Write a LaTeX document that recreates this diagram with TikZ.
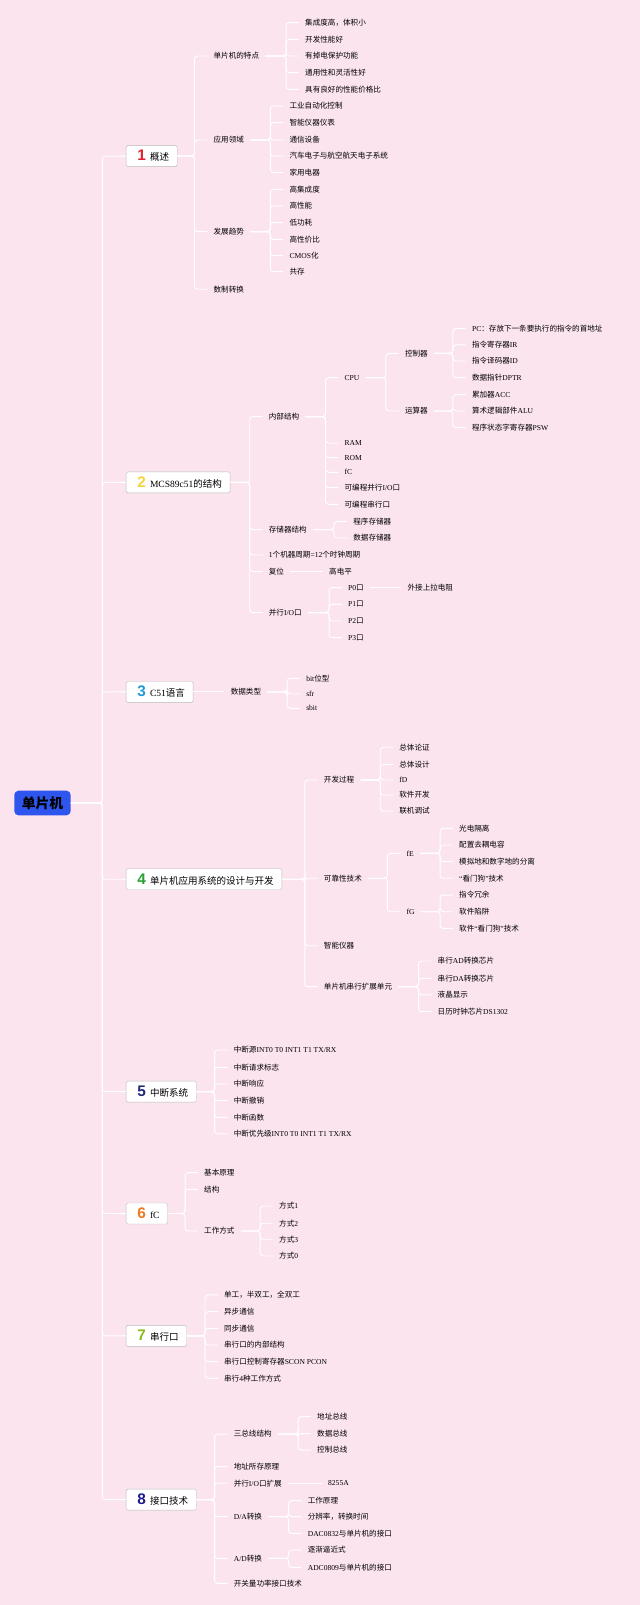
\documentclass[tikz,border=0pt]{standalone}
\usepackage{fontspec}
\setmainfont{Liberation Serif}
\setsansfont{Liberation Sans}
\newfontfamily\cjk{Noto Sans CJK SC}

% Chinese characters are set in the CJK font, the rest in Liberation Serif
\XeTeXinterchartokenstate=1
\newXeTeXintercharclass\cjkcls
\newcount\cjkcnt
\cjkcnt="3000
\loop
  \XeTeXcharclass\cjkcnt=\cjkcls
  \advance\cjkcnt by 1
\ifnum\cjkcnt<"A000 \repeat
\XeTeXcharclass"FF0C=\cjkcls
\XeTeXcharclass"FF1A=\cjkcls
\XeTeXcharclass"201C=0
\XeTeXcharclass"201D=0
\XeTeXinterchartoks 0 \cjkcls = {\cjk}
\XeTeXinterchartoks 4095 \cjkcls = {\cjk}
\XeTeXinterchartoks \cjkcls 0 = {\rmfamily}
\XeTeXinterchartoks \cjkcls 4095 = {\rmfamily}

\definecolor{bgpink}{RGB}{251,228,238}
\definecolor{rootblue}{RGB}{46,86,238}
\definecolor{boxline}{RGB}{185,185,185}
\definecolor{numA}{RGB}{226,30,50}
\definecolor{numB}{RGB}{246,212,60}
\definecolor{numC}{RGB}{32,152,214}
\definecolor{numD}{RGB}{40,160,50}
\definecolor{numE}{RGB}{30,40,120}
\definecolor{numF}{RGB}{240,120,30}
\definecolor{numG}{RGB}{140,185,30}
\definecolor{numH}{RGB}{30,25,140}

\newcommand\tnum[2]{\hspace{3pt}{\sffamily\bfseries\fontsize{15}{15}\selectfont\color{#1}#2}\hspace{4pt}}
\newcommand\links[2]{\foreach \c in {#2} \draw[link] (#1.east) -| ([xshift=-12.5pt]\c.west) -- (\c.west);}
\newcommand\single[2]{\draw[link] (#1.east) -- (#2.west);}

\begin{document}
\begin{tikzpicture}[x=1pt, y=-1pt,
    link/.style={white, line width=0.9pt, rounded corners=3pt},
    rootbox/.style={fill=rootblue, rounded corners=4pt, minimum width=55pt, minimum height=24pt,
        font=\fontsize{13.5}{15}\selectfont\bfseries},
    topic/.style={draw=boxline, fill=white, rounded corners=1.5pt, anchor=west, minimum height=20.5pt,
        inner xsep=8pt, inner ysep=0pt, font=\fontsize{9.3}{11}\selectfont},
    leaf/.style={anchor=west, xshift=-6pt, inner xsep=6pt, inner ysep=1pt, font=\fontsize{7.4}{9}\selectfont}]
    % Background
    \fill[bgpink] (0,0) rectangle (625,1568);
    \useasboundingbox (0,0) rectangle (625,1568);

    % Root and main topics
    \node[rootbox] (root) at (41.5,784.5) {单片机};
    \node[topic] (t1) at (123,152.5) {\tnum{numA}{1}概述};
    \node[topic] (t2) at (123,471.3) {\tnum{numB}{2}MCS89c51的结构};
    \node[topic] (t3) at (123,676) {\tnum{numC}{3}C51语言};
    \node[topic] (t4) at (123,859) {\tnum{numD}{4}单片机应用系统的设计与开发};
    \node[topic] (t5) at (123,1066.5) {\tnum{numE}{5}中断系统};
    \node[topic] (t6) at (123,1185.5) {\tnum{numF}{6}fC};
    \node[topic] (t7) at (123,1305) {\tnum{numG}{7}串行口};
    \node[topic] (t8) at (123,1465) {\tnum{numH}{8}接口技术};
    \foreach \t in {t1,t2,t3,t4,t5,t6,t7,t8}
        \draw[link] (root.east) -| ([xshift=-23pt]\t.west) -- (\t.west);

    % 1 概述
    \node[leaf] (a1) at (208.5,54.7) {单片机的特点};
    \node[leaf] (a2) at (208.5,136.8) {应用领域};
    \node[leaf] (a3) at (208.5,226.3) {发展趋势};
    \node[leaf] (a4) at (208.5,282.6) {数制转换};
    \node[leaf] (a11) at (298,22.1) {集成度高，体积小};
    \node[leaf] (a12) at (298,38.4) {开发性能好};
    \node[leaf] (a13) at (298,54.7) {有掉电保护功能};
    \node[leaf] (a14) at (298,71) {通用性和灵活性好};
    \node[leaf] (a15) at (298,87.3) {具有良好的性能价格比};
    \node[leaf] (a21) at (282.7,103.5) {工业自动化控制};
    \node[leaf] (a22) at (282.7,119.8) {智能仪器仪表};
    \node[leaf] (a23) at (282.7,136.8) {通信设备};
    \node[leaf] (a24) at (282.7,152.4) {汽车电子与航空航天电子系统};
    \node[leaf] (a25) at (282.7,168.7) {家用电器};
    \node[leaf] (a31) at (282.7,185) {高集成度};
    \node[leaf] (a32) at (282.7,201.2) {高性能};
    \node[leaf] (a33) at (282.7,217.5) {低功耗};
    \node[leaf] (a34) at (282.7,233.8) {高性价比};
    \node[leaf] (a35) at (282.7,249.8) {CMOS化};
    \node[leaf] (a36) at (282.7,265.4) {共存};
    \links{t1}{a1,a2,a3,a4}
    \links{a1}{a11,a12,a13,a14,a15}
    \links{a2}{a21,a22,a23,a24,a25}
    \links{a3}{a31,a32,a33,a34,a35,a36}

    % 2 MCS89c51的结构
    \node[leaf] (b1) at (262.5,407) {内部结构};
    \node[leaf] (b2) at (262.5,517.4) {存储器结构};
    \node[leaf] (b3) at (262.5,542.2) {1个机器周期=12个时钟周期};
    \node[leaf] (b4) at (262.5,558.5) {复位};
    \node[leaf] (b5) at (262.5,598.5) {并行I/O口};
    \node[leaf] (b11) at (336.5,369) {CPU};
    \node[leaf] (b12) at (336.5,433) {RAM};
    \node[leaf] (b13) at (336.5,447) {ROM};
    \node[leaf] (b14) at (336.5,461.4) {fC};
    \node[leaf] (b15) at (336.5,476.4) {可编程并行I/O口};
    \node[leaf] (b16) at (336.5,492.7) {可编程串行口};
    \node[leaf] (b111) at (395.5,345.2) {控制器};
    \node[leaf] (b112) at (395.5,401.5) {运算器};
    \node[leaf] (c1) at (461,320.8) {PC：存放下一条要执行的指令的首地址};
    \node[leaf] (c2) at (461,337) {指令寄存器IR};
    \node[leaf] (c3) at (461,352.7) {指令译码器ID};
    \node[leaf] (c4) at (461,369) {数据指针DPTR};
    \node[leaf] (c5) at (461,385.6) {累加器ACC};
    \node[leaf] (c6) at (461,401.5) {算术逻辑部件ALU};
    \node[leaf] (c7) at (461,417.8) {程序状态字寄存器PSW};
    \node[leaf] (b21) at (345,509.3) {程序存储器};
    \node[leaf] (b22) at (345,525.6) {数据存储器};
    \node[leaf] (b41) at (321.4,558.5) {高电平};
    \node[leaf] (b51) at (340,574) {P0口};
    \node[leaf] (b52) at (340,590.4) {P1口};
    \node[leaf] (b53) at (340,606.7) {P2口};
    \node[leaf] (b54) at (340,623) {P3口};
    \node[leaf] (b511) at (398,574) {外接上拉电阻};
    \links{t2}{b1,b2,b3,b4,b5}
    \links{b1}{b11,b12,b13,b14,b15,b16}
    \links{b11}{b111,b112}
    \links{b111}{c1,c2,c3,c4}
    \links{b112}{c5,c6,c7}
    \links{b2}{b21,b22}
    \single{b4}{b41}
    \links{b5}{b51,b52,b53,b54}
    \single{b51}{b511}

    % 3 C51语言
    \node[leaf] (d1) at (225.3,676) {数据类型};
    \node[leaf] (d11) at (299,662.7) {bit位型};
    \node[leaf] (d12) at (299,678) {sfr};
    \node[leaf] (d13) at (299,692) {sbit};
    \single{t3}{d1}
    \links{d1}{d11,d12,d13}

    % 4 单片机应用系统的设计与开发
    \node[leaf] (e1) at (316.3,762) {开发过程};
    \node[leaf] (e2) at (316.3,858) {可靠性技术};
    \node[leaf] (e3) at (316.3,923.9) {智能仪器};
    \node[leaf] (e4) at (316.3,963.9) {单片机串行扩展单元};
    \node[leaf] (e11) at (390,730) {总体论证};
    \node[leaf] (e12) at (390,746.7) {总体设计};
    \node[leaf] (e13) at (390,762) {fD};
    \node[leaf] (e14) at (390,776.7) {软件开发};
    \node[leaf] (e15) at (390,792.3) {联机调试};
    \node[leaf] (e21) at (397,833.7) {fE};
    \node[leaf] (e22) at (397,890.7) {fG};
    \node[leaf] (f1) at (448.4,809.2) {光电隔离};
    \node[leaf] (f2) at (448.4,825.5) {配置去耦电容};
    \node[leaf] (f3) at (448.4,841.8) {模拟地和数字地的分离};
    \node[leaf] (f4) at (448.4,858) {“看门狗”技术};
    \node[leaf] (f5) at (448.4,874.4) {指令冗余};
    \node[leaf] (f6) at (448.4,890.7) {软件陷阱};
    \node[leaf] (f7) at (448.4,906.9) {软件“看门狗”技术};
    \node[leaf] (e41) at (427.4,938.8) {串行AD转换芯片};
    \node[leaf] (e42) at (427.4,955.8) {串行DA转换芯片};
    \node[leaf] (e43) at (427.4,972) {液晶显示};
    \node[leaf] (e44) at (427.4,988.3) {日历时钟芯片DS1302};
    \links{t4}{e1,e2,e3,e4}
    \links{e1}{e11,e12,e13,e14,e15}
    \links{e2}{e21,e22}
    \links{e21}{f1,f2,f3,f4}
    \links{e22}{f5,f6,f7}
    \links{e4}{e41,e42,e43,e44}

    % 5 中断系统
    \node[leaf] (g1) at (228.2,1025.8) {中断源INT0 T0 INT1 T1 TX/RX};
    \node[leaf] (g2) at (228.2,1042.7) {中断请求标志};
    \node[leaf] (g3) at (228.2,1059) {中断响应};
    \node[leaf] (g4) at (228.2,1075.3) {中断撤销};
    \node[leaf] (g5) at (228.2,1091.6) {中断函数};
    \node[leaf] (g6) at (228.2,1107.8) {中断优先级INT0 T0 INT1 T1 TX/RX};
    \links{t5}{g1,g2,g3,g4,g5,g6}

    % 6 fC
    \node[leaf] (h1) at (199.3,1145.6) {基本原理};
    \node[leaf] (h2) at (199.3,1161.9) {结构};
    \node[leaf] (h3) at (199.3,1202.6) {工作方式};
    \node[leaf] (h31) at (272.6,1178.2) {方式1};
    \node[leaf] (h32) at (272.6,1195) {方式2};
    \node[leaf] (h33) at (272.6,1210.7) {方式3};
    \node[leaf] (h34) at (272.6,1227) {方式0};
    \links{t6}{h1,h2,h3}
    \links{h3}{h31,h32,h33,h34}

    % 7 串行口
    \node[leaf] (k1) at (218.8,1265) {单工，半双工，全双工};
    \node[leaf] (k2) at (218.8,1281.4) {异步通信};
    \node[leaf] (k3) at (218.8,1297.7) {同步通信};
    \node[leaf] (k4) at (218.8,1314) {串行口的内部结构};
    \node[leaf] (k5) at (218.8,1330.3) {串行口控制寄存器SCON PCON};
    \node[leaf] (k6) at (218.8,1346.5) {串行4种工作方式};
    \links{t7}{k1,k2,k3,k4,k5,k6}

    % 8 接口技术
    \node[leaf] (m1) at (228.2,1401) {三总线结构};
    \node[leaf] (m2) at (228.2,1432.8) {地址所存原理};
    \node[leaf] (m3) at (228.2,1449) {并行I/O口扩展};
    \node[leaf] (m4) at (228.2,1481.7) {D/A转换};
    \node[leaf] (m5) at (228.2,1522.4) {A/D转换};
    \node[leaf] (m6) at (228.2,1546.8) {开关量功率接口技术};
    \node[leaf] (m11) at (309.7,1384) {地址总线};
    \node[leaf] (m12) at (309.7,1400.6) {数据总线};
    \node[leaf] (m13) at (309.7,1416.6) {控制总线};
    \node[leaf] (m31) at (320.4,1449) {8255A};
    \node[leaf] (m41) at (300.5,1466) {工作原理};
    \node[leaf] (m42) at (300.5,1481.7) {分辨率，转换时间};
    \node[leaf] (m43) at (300.5,1498) {DAC0832与单片机的接口};
    \node[leaf] (m51) at (300.5,1514.3) {逐渐逼近式};
    \node[leaf] (m52) at (300.5,1531.2) {ADC0809与单片机的接口};
    \links{t8}{m1,m2,m3,m4,m5,m6}
    \links{m1}{m11,m12,m13}
    \single{m3}{m31}
    \links{m4}{m41,m42,m43}
    \links{m5}{m51,m52}
\end{tikzpicture}
\end{document}
